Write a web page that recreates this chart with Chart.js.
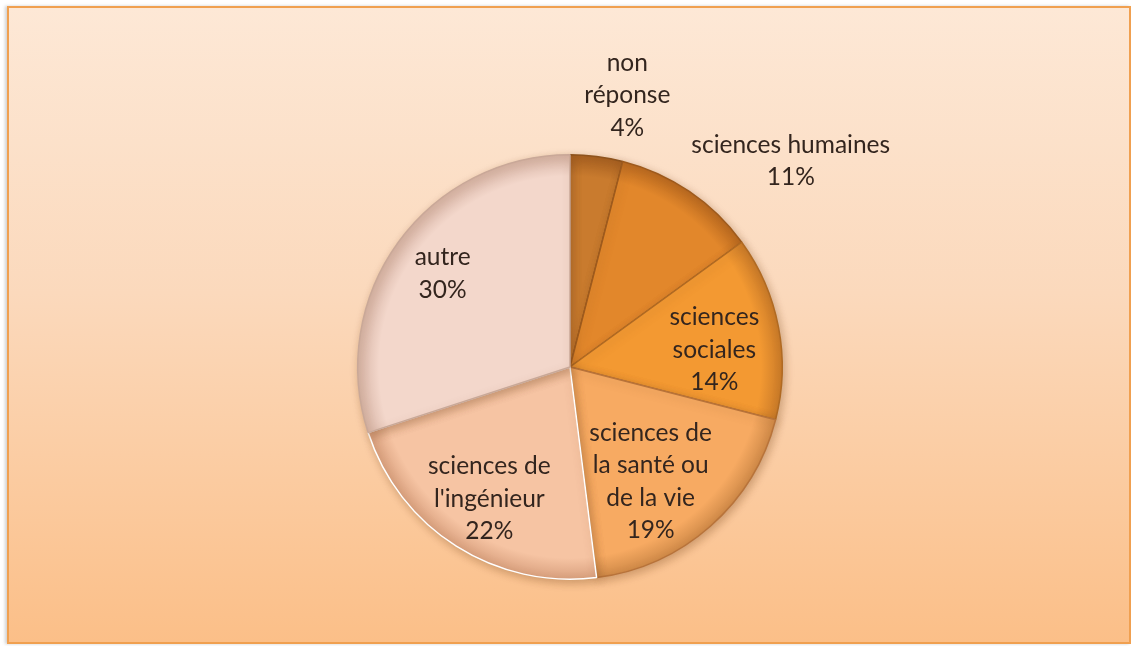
<!DOCTYPE html>
<html>
<head>
<meta charset="utf-8">
<script src="https://cdn.jsdelivr.net/npm/chart.js"></script>
<style>
  body { margin: 0; background: #ffffff; }
  #cadre {
    position: absolute; left: 7px; top: 6px; width: 1120px; height: 634px;
    border: 2px solid #f0a050;
    background: linear-gradient(to bottom, #fde8d6 0%, #fbd9bc 45%, #fbbf88 100%);
    box-shadow: -2px 0 3px rgba(120,120,120,0.35);
  }
  #grafico { position: absolute; left: 0; top: 0; }
</style>
</head>
<body>
<div id="cadre"></div>
<canvas id="grafico" width="1131" height="646"></canvas>
<script>
// categories et valeurs (%)
const categories = [
  ["non", "réponse"],
  ["sciences humaines"],
  ["sciences", "sociales"],
  ["sciences de", "la santé ou", "de la vie"],
  ["sciences de", "l'ingénieur"],
  ["autre"]
];
const valeurs = [4, 11, 14, 19, 22, 30];

const couleurs = ["#c97b2e", "#e2872b", "#f39932", "#f7aa62", "#f6c4a3", "#f3d7cb"];
const bords = ["#a65f20", "#b9691f", "#c97a28", "#d08a48", "#d9a07e", "#d6b3a4"];
const bordures = ["#8e531d", "#9e5a1c", "#b06a22", "#b8733a", "#ffffff", "#c9a898"];

// position des étiquettes : multiple du rayon par rapport au centre
const posEtiquettes = [
  [0.27, -1.28],
  [1.04, -0.97],
  [0.68, -0.08],
  [0.38, 0.54],
  [-0.38, 0.62],
  [-0.60, -0.44]
];

function degrade(context) {
  const i = context.dataIndex;
  const chart = context.chart;
  const meta = chart.getDatasetMeta(0);
  const arc = meta.data[i];
  if (!arc || !arc.outerRadius) return couleurs[i];
  const g = chart.ctx.createRadialGradient(arc.x, arc.y, 0, arc.x, arc.y, arc.outerRadius);
  g.addColorStop(0, couleurs[i]);
  g.addColorStop(0.9, couleurs[i]);
  g.addColorStop(1, bords[i]);
  return g;
}

const etiquettes = {
  id: 'etiquettes',
  afterDatasetsDraw(chart) {
    const ctx = chart.ctx;
    const meta = chart.getDatasetMeta(0);
    ctx.save();
    ctx.font = '24.5px Lato, "Open Sans", sans-serif';
    ctx.fillStyle = '#33251e';
    ctx.textAlign = 'center';
    ctx.textBaseline = 'middle';
    meta.data.forEach((arc, i) => {
      const r = arc.outerRadius;
      const cx = arc.x + posEtiquettes[i][0] * r;
      const cy = arc.y + posEtiquettes[i][1] * r;
      const lignes = categories[i].concat([valeurs[i] + '%']);
      const h = 32.5;
      lignes.forEach((t, k) => {
        ctx.fillText(t, cx, cy + (k - (lignes.length - 1) / 2) * h);
      });
    });
    ctx.restore();
  }
};

const ombre = {
  id: 'ombre',
  beforeDatasetsDraw(chart) {
    const ctx = chart.ctx;
    ctx.save();
    ctx.shadowColor = 'rgba(120,70,30,0.35)';
    ctx.shadowBlur = 8;
    ctx.shadowOffsetX = 2;
    ctx.shadowOffsetY = 3;
  },
  afterDatasetsDraw(chart) {
    chart.ctx.restore();
  }
};

const ctx = document.getElementById('grafico');

const graf = new Chart(ctx, {
  type: 'pie',
  data: {
    labels: categories.map(c => c.join(' ')),
    datasets: [{
      data: valeurs,
      backgroundColor: degrade,
      borderColor: bordures,
      borderWidth: 1.5
    }]
  },
  options: {
    responsive: false,
    animation: false,
    layout: { padding: { left: 70, right: 61, top: 154, bottom: 66 } },
    plugins: {
      legend: { display: false },
      tooltip: { enabled: false }
    }
  },
  plugins: [ombre, etiquettes]
});
graf.update();
</script>
</body>
</html>
